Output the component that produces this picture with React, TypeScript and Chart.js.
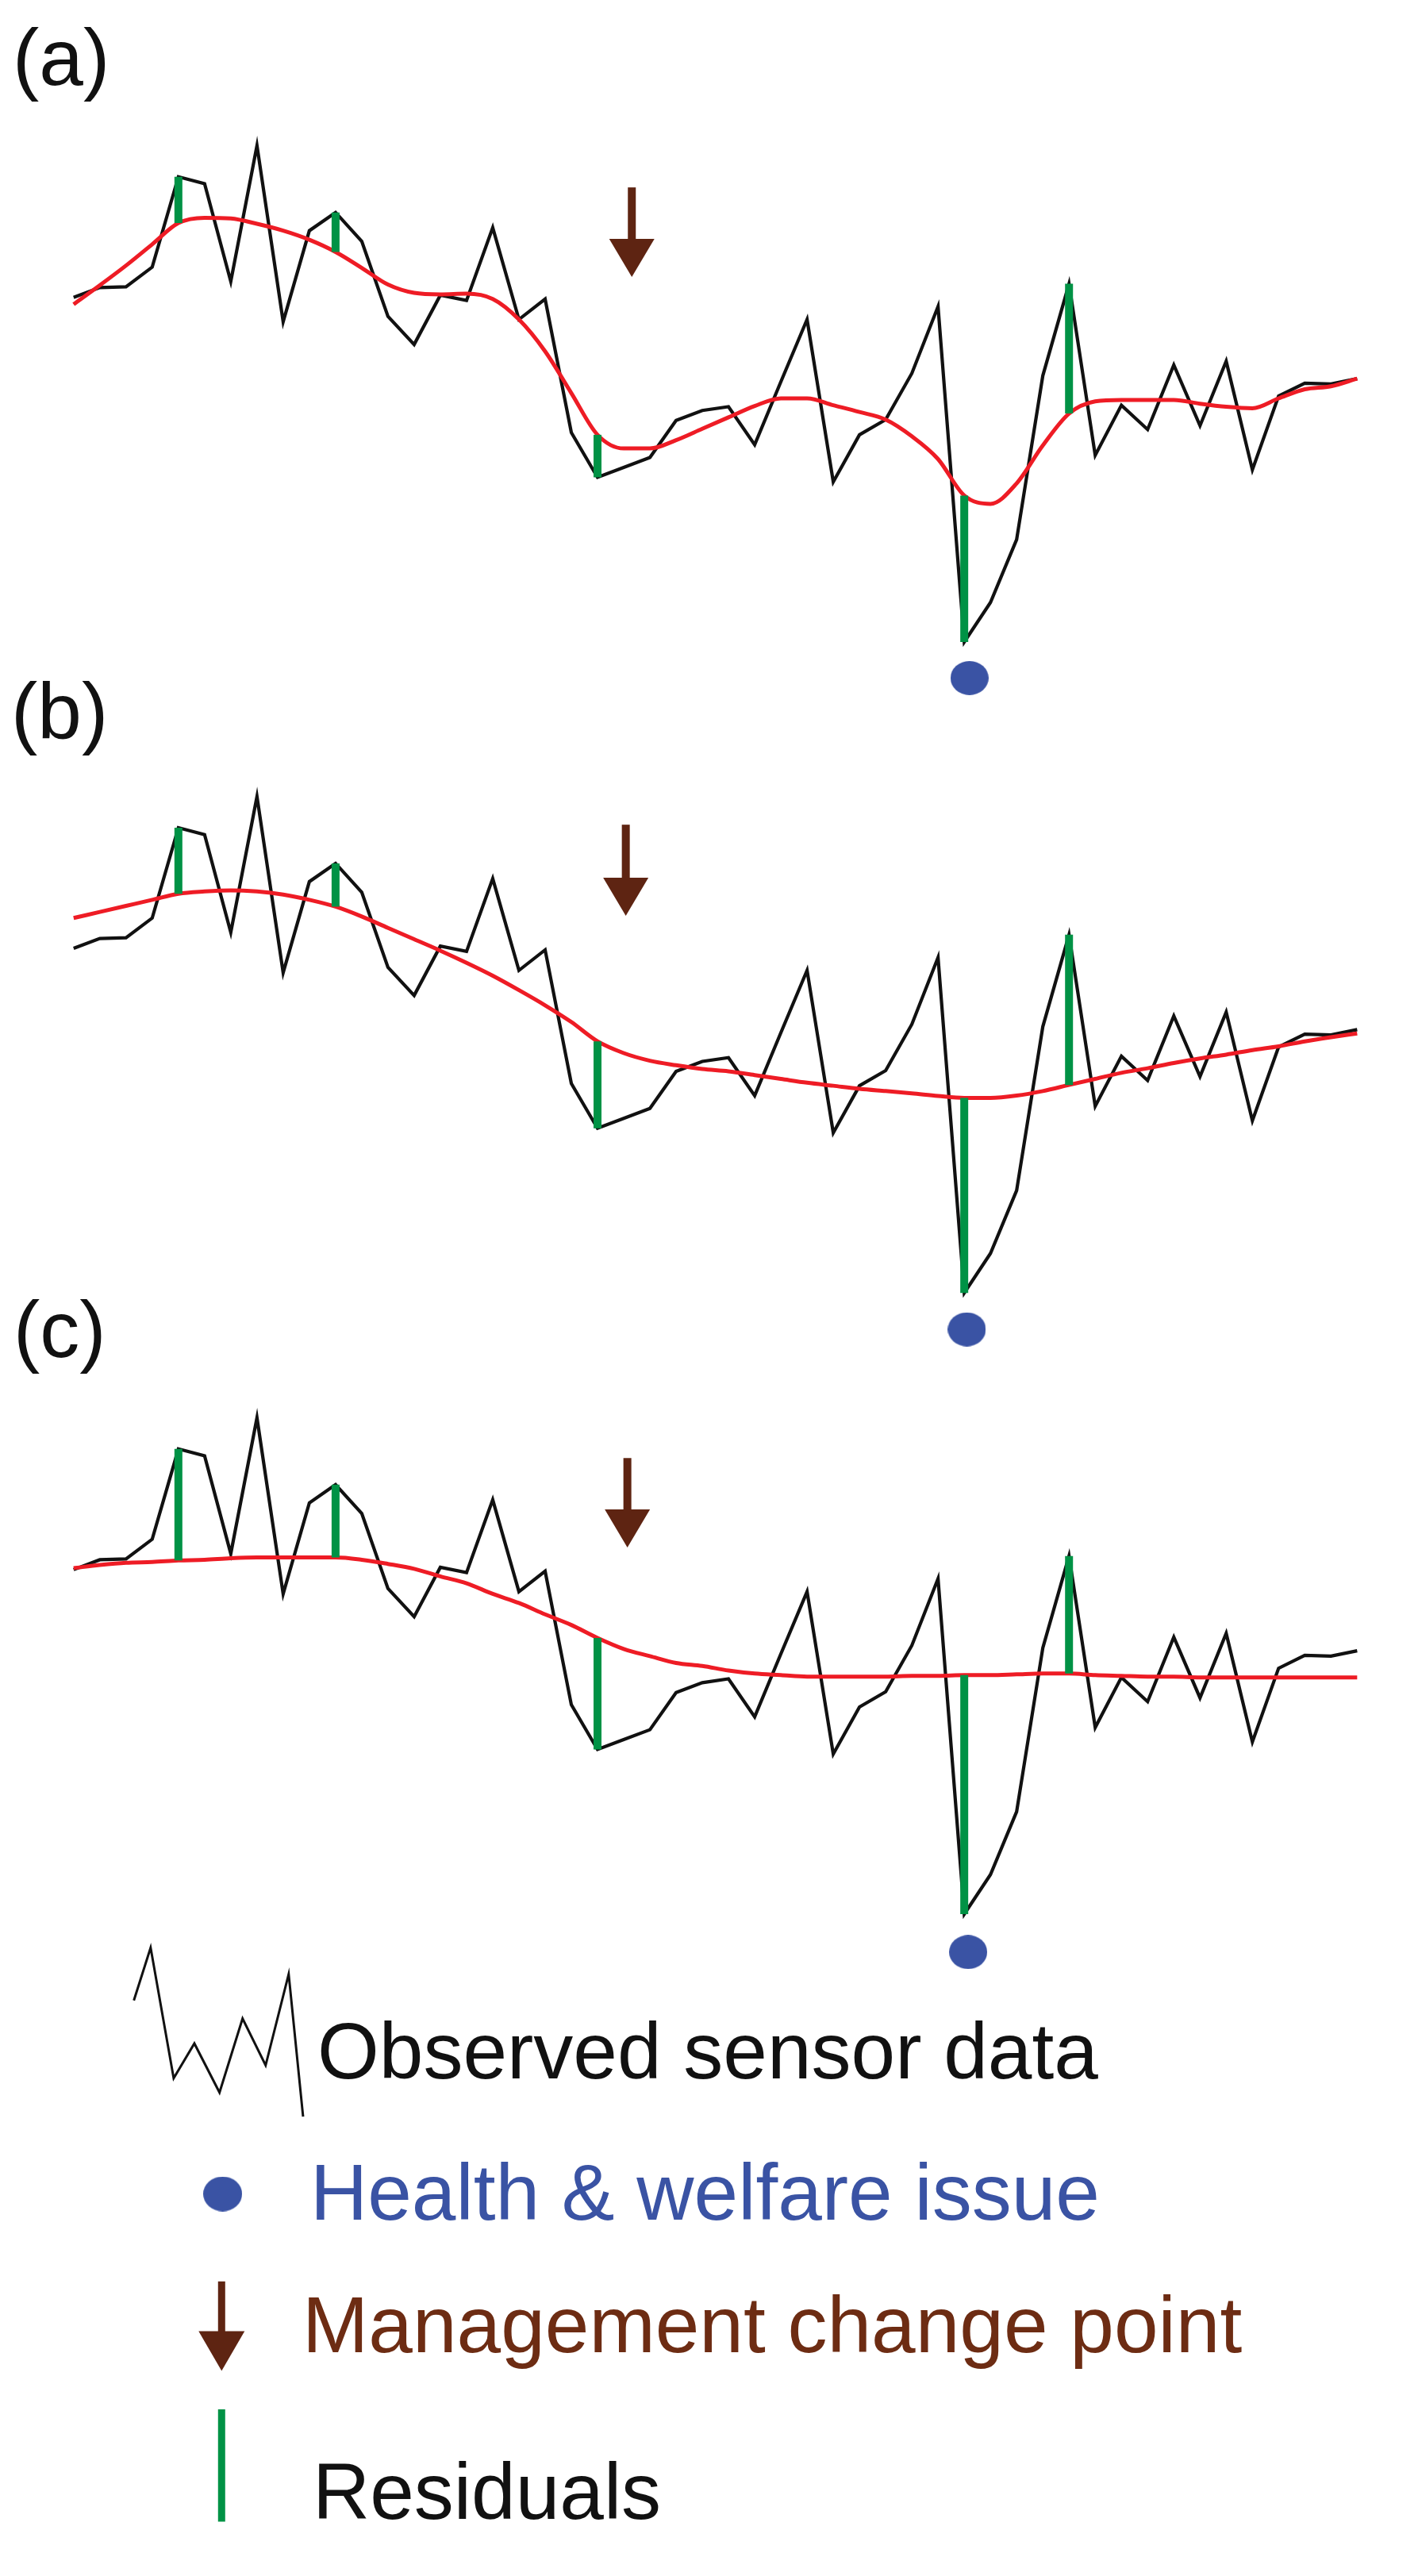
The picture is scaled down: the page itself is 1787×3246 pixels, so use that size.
import React, { useEffect, useRef } from "react";
import { Chart, registerables } from "chart.js";

Chart.register(...registerables);

// ---------------- DATA ----------------
// Observed sensor readings (same series in all three panels), one per time step
const observedSensor = [
  33.0, 34.3, 34.4, 37.0, 48.9, 48.0, 35.1, 53.0, 29.8, 41.8,
  44.2, 40.4, 30.5, 26.8, 33.3, 32.6, 42.2, 30.1, 32.8, 15.2,
  9.3, 10.6, 11.9, 16.8, 18.1, 18.6, 13.6, 21.9, 30.1, 8.7,
  14.9, 16.9, 23.0, 31.8, -12.4, -7.2, 1.1, 22.7, 34.8, 12.2,
  18.8, 15.6, 24.1, 16.1, 24.6, 10.3, 20.0, 21.7, 21.6, 22.3,
];
const timeSteps = observedSensor.map((_, i) => i);

// Smoothed fits (red) for the three panels
const fitA = [
  32.1, 34.6, 37.2, 40.0, 42.8, 43.5, 43.4, 42.7, 41.8, 40.6,
  39.0, 36.9, 34.7, 33.6, 33.4, 33.5, 32.8, 30.1, 25.9, 20.4,
  14.9, 13.1, 13.1, 14.2, 15.7, 17.2, 18.7, 19.7, 19.7, 18.8,
  17.9, 16.9, 14.7, 11.7, 6.9, 5.8, 8.5, 13.5, 17.7, 19.3,
  19.5, 19.5, 19.5, 19.0, 18.6, 18.4, 19.7, 20.9, 21.3, 22.3,
];
const fitB = [
  37.0, 37.8, 38.6, 39.4, 40.2, 40.5, 40.65, 40.5, 40.1, 39.4,
  38.5, 37.2, 35.7, 34.2, 32.7, 31.1, 29.4, 27.5, 25.5, 23.3,
  20.75, 19.2, 18.2, 17.6, 17.1, 16.8, 16.3, 15.8, 15.3, 14.9,
  14.5, 14.2, 13.9, 13.55, 13.3, 13.3, 13.6, 14.2, 15.0, 15.8,
  16.6, 17.2, 17.9, 18.5, 19.0, 19.6, 20.1, 20.75, 21.3, 21.8,
];
const fitC = [
  33.2, 33.6, 33.9, 34.0, 34.2, 34.3, 34.5, 34.6, 34.6, 34.6,
  34.6, 34.3, 33.75, 33.1, 32.1, 31.2, 29.8, 28.6, 27.1, 25.7,
  24.0, 22.55, 21.6, 20.7, 20.3, 19.7, 19.3, 19.1, 18.9, 18.9,
  18.9, 18.9, 19.0, 19.0, 19.1, 19.1, 19.2, 19.3, 19.3, 19.1,
  19.0, 18.9, 18.9, 18.8, 18.8, 18.8, 18.8, 18.8, 18.8, 18.8,
];
const fits = [fitA, fitB, fitC];

// Time steps where residuals are highlighted
const residualSteps = [4, 10, 20, 34, 38];

// Health & welfare issue marker per panel
const welfareIssueX = [34.2, 34.1, 34.15];
const welfareIssueY = [-17.15, -17.2, -17.4];

// Management change point arrow per panel
const changePointX = [21.31, 21.08, 21.14];
const changeArrowTop = [47.5, 49.3, 47.7];
const changeArrowTip = [35.7, 37.3, 35.9];

const panelLabels = ["(a)", "(b)", "(c)"];

// Legend sample zig-zag
const legendZigX = [2.3, 2.94, 3.82, 4.61, 5.57, 6.45, 7.33, 8.21, 8.76];
const legendZigY = [19.5, 26.5, 9.2, 13.8, 7.3, 17.1, 10.9, 23.0, 4.1];
const legendIconX = [5.69, 5.65, 5.65];
const legendDotY = [-6.15];
const legendArrowY = [-17.75, -29.6];
const legendResidualY = [-34.7, -49.6];
const legendLabels = [
  "Observed sensor data",
  "Health & welfare issue",
  "Management change point",
  "Residuals",
];

// ---------------- STYLE / LAYOUT ----------------
const PAGE_W = 1787;
const PAGE_H = 3246;
const X_MIN = -2.174;
const X_MAX = 50.686;
const PANEL_H = 960;
const panelTops = [0, 760, 1560];
const panelYMax = [70, 76.3, 74.5];
const LEGEND_TOP = 2400;
const LEGEND_H = 846;
const LEGEND_YMAX = 30;

const BLACK = "#111111";
const RED = "#ee1c25";
const GREEN = "#009245";
const BLUE = "#3a53a4";
const BROWN_ARROW = "#5e2412";
const BROWN_TEXT = "#6d2c13";
const FONT = '"Liberation Sans", Arial, Helvetica, sans-serif';

const panelLabelPos = [
  { left: 16, top: 22 },
  { left: 14, top: 846 },
  { left: 17, top: 1625 },
];
const legendTextPos = [
  { left: 400, top: 2534, color: BLACK },
  { left: 391, top: 2712, color: BLUE },
  { left: 381, top: 2879, color: BROWN_TEXT },
  { left: 394, top: 3089, color: BLACK },
];

function makeEllipse(w: number, h: number, color: string) {
  const c = document.createElement("canvas");
  c.width = w;
  c.height = h;
  const g = c.getContext("2d")!;
  g.fillStyle = color;
  g.beginPath();
  g.ellipse(w / 2, h / 2, w / 2, h / 2, 0, 0, Math.PI * 2);
  g.fill();
  return c;
}

type ArrowSpec = { x: number; top: number; tip: number };

function makeArrowPlugin(arrows: ArrowSpec[], headW: number, headH: number, shaftW: number) {
  return {
    id: "changeArrow",
    afterDatasetsDraw(chart: any) {
      const { ctx } = chart;
      const xs = chart.scales.x;
      const ys = chart.scales.y;
      for (const a of arrows) {
        const px = xs.getPixelForValue(a.x);
        const top = ys.getPixelForValue(a.top);
        const tip = ys.getPixelForValue(a.tip);
        const headTop = tip - headH;
        ctx.save();
        ctx.fillStyle = BROWN_ARROW;
        ctx.fillRect(px - shaftW / 2, top, shaftW, headTop - top + 2);
        ctx.beginPath();
        ctx.moveTo(px - headW / 2, headTop);
        ctx.lineTo(px + headW / 2, headTop);
        ctx.lineTo(px, tip);
        ctx.closePath();
        ctx.fill();
        ctx.restore();
      }
    },
  };
}

function baseOptions(yMin: number, yMax: number) {
  return {
    animation: false,
    responsive: false,
    maintainAspectRatio: false,
    events: [],
    layout: { padding: 0 },
    plugins: { legend: { display: false }, tooltip: { enabled: false } },
    scales: {
      x: { type: "linear", display: false, min: X_MIN, max: X_MAX },
      y: { type: "linear", display: false, min: yMin, max: yMax },
    },
    elements: { point: { radius: 0 } },
  };
}

function buildPanel(p: number) {
  const fit = fits[p];
  const yMax = panelYMax[p];
  const yMin = yMax - PANEL_H / 10;
  const dot = makeEllipse(48, 43, BLUE);
  const residualSets = residualSteps.map((k) => ({
    type: "line",
    data: [
      { x: timeSteps[k], y: observedSensor[k] },
      { x: timeSteps[k], y: fit[k] },
    ],
    borderColor: GREEN,
    borderWidth: 10,
    borderCapStyle: "butt",
    pointRadius: 0,
    order: 0,
  }));
  return {
    type: "line",
    data: {
      datasets: [
        ...residualSets,
        {
          type: "line",
          data: [{ x: welfareIssueX[p], y: welfareIssueY[p] }],
          showLine: false,
          pointStyle: dot,
          pointRadius: 20,
          order: 1,
        },
        {
          type: "line",
          data: timeSteps.map((t, i) => ({ x: t, y: fit[i] })),
          borderColor: RED,
          borderWidth: 5,
          cubicInterpolationMode: "monotone",
          pointRadius: 0,
          order: 2,
        },
        {
          type: "line",
          data: timeSteps.map((t, i) => ({ x: t, y: observedSensor[i] })),
          borderColor: BLACK,
          borderWidth: 4.2,
          tension: 0,
          borderJoinStyle: "miter",
          pointRadius: 0,
          order: 3,
        },
      ],
    },
    options: baseOptions(yMin, yMax),
    plugins: [
      makeArrowPlugin(
        [{ x: changePointX[p], top: changeArrowTop[p], tip: changeArrowTip[p] }],
        57,
        48,
        10
      ),
    ],
  };
}

function buildLegend() {
  const dot = makeEllipse(49, 44, BLUE);
  return {
    type: "line",
    data: {
      datasets: [
        {
          type: "line",
          data: legendZigX.map((x, i) => ({ x, y: legendZigY[i] })),
          borderColor: BLACK,
          borderWidth: 3,
          tension: 0,
          pointRadius: 0,
        },
        {
          type: "line",
          data: [{ x: legendIconX[0], y: legendDotY[0] }],
          showLine: false,
          pointStyle: dot,
          pointRadius: 20,
        },
        {
          type: "line",
          data: [
            { x: legendIconX[2], y: legendResidualY[0] },
            { x: legendIconX[2], y: legendResidualY[1] },
          ],
          borderColor: GREEN,
          borderWidth: 9,
          borderCapStyle: "butt",
          pointRadius: 0,
        },
      ],
    },
    options: baseOptions(LEGEND_YMAX - LEGEND_H / 10, LEGEND_YMAX),
    plugins: [
      makeArrowPlugin(
        [{ x: legendIconX[1], top: legendArrowY[0], tip: legendArrowY[1] }],
        58,
        50,
        9
      ),
    ],
  };
}

function ChartBox(props: { build: () => any; top: number; height: number }) {
  const ref = useRef<HTMLCanvasElement>(null);
  useEffect(() => {
    const chart = new Chart(ref.current as HTMLCanvasElement, props.build());
    return () => chart.destroy();
  }, []);
  return (
    <div style={{ position: "absolute", left: 0, top: props.top, width: PAGE_W, height: props.height }}>
      <canvas
        ref={ref}
        width={PAGE_W}
        height={props.height}
        style={{ display: "block", width: PAGE_W, height: props.height }}
      />
    </div>
  );
}

const textStyle = (left: number, top: number, color: string): React.CSSProperties => ({
  position: "absolute",
  left,
  top,
  fontFamily: FONT,
  fontSize: 100,
  lineHeight: "100px",
  color,
  whiteSpace: "nowrap",
  margin: 0,
});

export default function App() {
  return (
    <div
      style={{
        position: "absolute",
        left: 0,
        top: 0,
        width: PAGE_W,
        height: PAGE_H,
        background: "#ffffff",
        overflow: "hidden",
      }}
    >
      {panelTops.map((t, p) => (
        <ChartBox key={p} build={() => buildPanel(p)} top={t} height={PANEL_H} />
      ))}
      <ChartBox build={buildLegend} top={LEGEND_TOP} height={LEGEND_H} />
      {panelLabels.map((lab, i) => (
        <div key={lab} style={textStyle(panelLabelPos[i].left, panelLabelPos[i].top, BLACK)}>
          {lab}
        </div>
      ))}
      {legendLabels.map((lab, i) => (
        <div key={lab} style={textStyle(legendTextPos[i].left, legendTextPos[i].top, legendTextPos[i].color)}>
          {lab}
        </div>
      ))}
    </div>
  );
}
